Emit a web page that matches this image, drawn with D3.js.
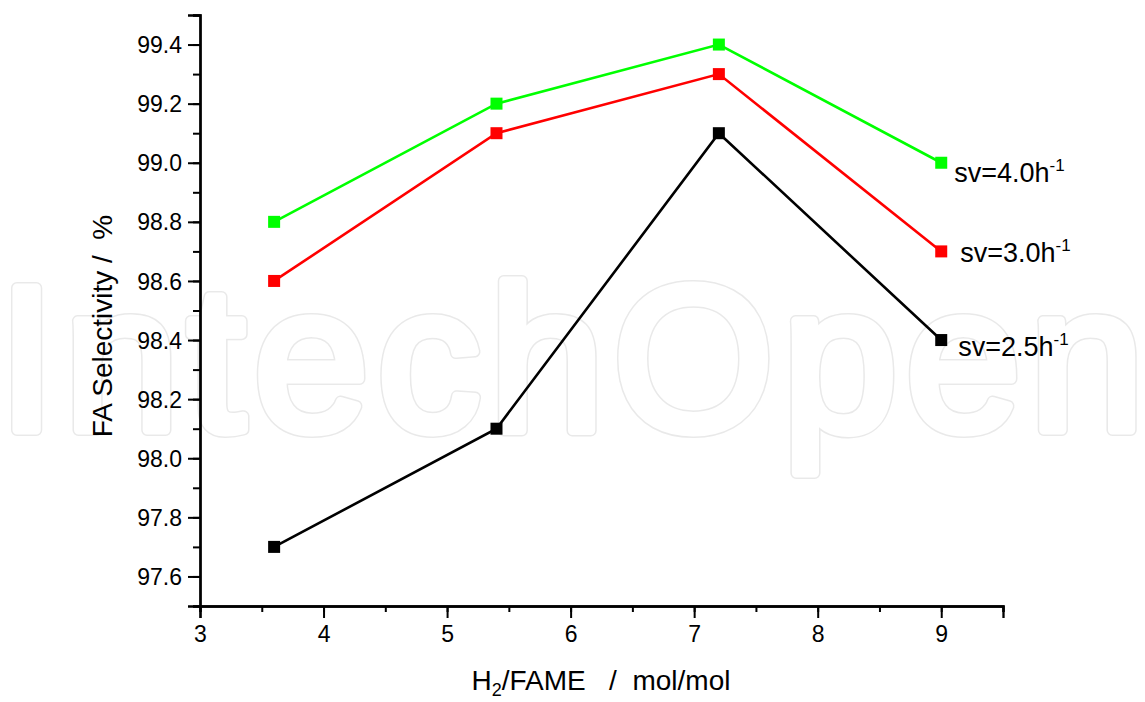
<!DOCTYPE html>
<html>
<head>
<meta charset="utf-8">
<script src="https://cdn.jsdelivr.net/npm/d3@7"></script>
<style>
  html, body { margin: 0; padding: 0; background: #fff; }
  svg { display: block; font-family: "Liberation Sans", Arial, sans-serif; }
  text { white-space: pre; }
</style>
</head>
<body>
<svg id="chart" width="1145" height="702"></svg>
<script>
// ---- data ----
const xValues = [3.6, 5.4, 7.2, 9.0];
const sv40 = [98.8, 99.2, 99.4, 99.0];
const sv30 = [98.6, 99.1, 99.3, 98.7];
const sv25 = [97.7, 98.1, 99.1, 98.4];
const seriesNames = ["sv=4.0h", "sv=3.0h", "sv=2.5h"];
const xTickLabels = [3, 4, 5, 6, 7, 8, 9];
const yTickLabels = [97.6, 97.8, 98.0, 98.2, 98.4, 98.6, 98.8, 99.0, 99.2, 99.4];
const xTitle = ["H", "2", "/FAME   /  mol/mol"];
const yTitle = "FA Selectivity /  %";
const watermark = "IntechOpen";

// ---- styles / layout ----
const seriesStyle = [
  { values: sv40, color: "#00ff00", name: seriesNames[0], dx: 13, dy: 19 },
  { values: sv30, color: "#ff0000", name: seriesNames[1], dx: 19, dy: 11 },
  { values: sv25, color: "#000000", name: seriesNames[2], dx: 17, dy: 16 }
];

const svg = d3.select("#chart");

// watermark (behind everything)
const wm = svg.append("g");
wm.append("text")
  .attr("x", -2).attr("y", 430)
  .attr("font-size", 206).attr("letter-spacing", 9)
  .attr("fill", "none").attr("stroke", "#e9e9e9").attr("stroke-width", 12)
  .attr("stroke-linejoin", "round")
  .text(watermark);
wm.append("text")
  .attr("x", -2).attr("y", 430)
  .attr("font-size", 206).attr("letter-spacing", 9)
  .attr("fill", "#fff").attr("stroke", "#fff").attr("stroke-width", 9)
  .attr("stroke-linejoin", "round")
  .text(watermark);

const x = d3.scaleLinear().domain([3, 9.5]).range([200, 1003]);
const y = d3.scaleLinear().domain([97.5, 99.5]).range([606, 15]);

// minor ticks
const xMinor = d3.range(3, 9.51, 0.5);
const yMinor = d3.range(97.5, 99.51, 0.1).map(v => +v.toFixed(2));

const gxMinor = svg.append("g").attr("transform", "translate(0,606)")
  .call(d3.axisBottom(x).tickValues(xMinor).tickSize(6).tickFormat(""));
const gyMinor = svg.append("g").attr("transform", "translate(200,0)")
  .call(d3.axisLeft(y).tickValues(yMinor).tickSize(7).tickFormat(""));

const gx = svg.append("g").attr("transform", "translate(0,606)")
  .call(d3.axisBottom(x).tickValues(xTickLabels).tickSize(12).tickPadding(8)
    .tickFormat(d3.format("d")));
const gy = svg.append("g").attr("transform", "translate(200,0)")
  .call(d3.axisLeft(y).tickValues(yTickLabels).tickSize(12).tickPadding(6)
    .tickFormat(d3.format(".1f")));

[gxMinor, gyMinor, gx, gy].forEach(g => {
  g.selectAll("path.domain").attr("stroke", "#000").attr("stroke-width", 2.3);
  g.selectAll(".tick line").attr("stroke", "#000").attr("stroke-width", 2);
  g.selectAll(".tick text").attr("fill", "#000").attr("font-size", 23)
    .attr("font-family", "'Liberation Sans', Arial, sans-serif");
});
gx.selectAll(".tick text").attr("dy", "0.71em");
gy.selectAll(".tick text").attr("dy", "0.35em");

// series
const line = d3.line().x((d, i) => x(xValues[i])).y(d => y(d));
seriesStyle.slice().reverse().forEach(s => {
  svg.append("path").datum(s.values)
    .attr("d", line).attr("fill", "none")
    .attr("stroke", s.color).attr("stroke-width", 2.6);
  svg.append("g").selectAll("rect").data(s.values).join("rect")
    .attr("x", (d, i) => x(xValues[i]) - 6)
    .attr("y", d => y(d) - 6)
    .attr("width", 12).attr("height", 12)
    .attr("fill", s.color);
  const last = s.values.length - 1;
  const t = svg.append("text")
    .attr("x", x(xValues[last]) + s.dx)
    .attr("y", y(s.values[last]) + s.dy)
    .attr("font-size", 27).attr("fill", "#000");
  t.append("tspan").text(s.name);
  t.append("tspan").attr("font-size", 17).attr("dy", -11).text("-1");
});

// axis titles
const xt = svg.append("text")
  .attr("x", 601).attr("y", 690)
  .attr("text-anchor", "middle").attr("font-size", 28).attr("fill", "#000");
xt.append("tspan").text(xTitle[0]);
xt.append("tspan").attr("font-size", 18).attr("dy", 6).text(xTitle[1]);
xt.append("tspan").attr("dy", -6).text(xTitle[2]);

svg.append("text")
  .attr("transform", "translate(112,326) rotate(-90)")
  .attr("text-anchor", "middle").attr("font-size", 28).attr("fill", "#000")
  .text(yTitle);
</script>
</body>
</html>
